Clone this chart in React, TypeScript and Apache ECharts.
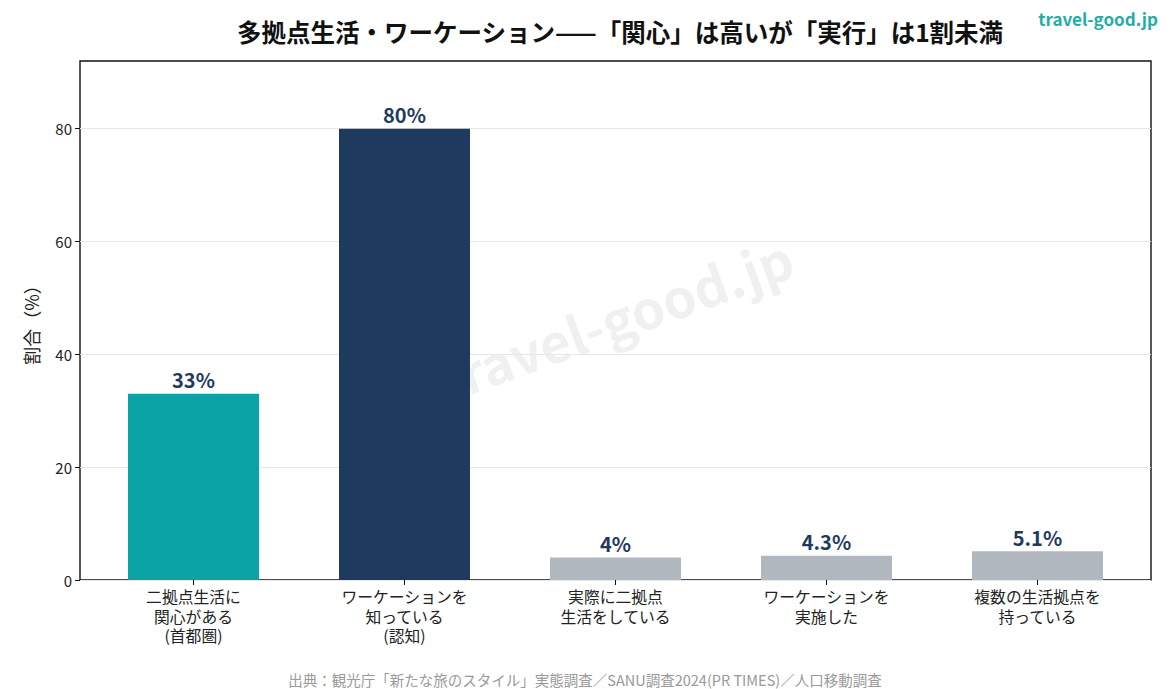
import React, { useEffect, useRef } from "react";
import * as echarts from "echarts";

const categories = [
  "二拠点生活に\n関心がある\n(首都圏)",
  "ワーケーションを\n知っている\n(認知)",
  "実際に二拠点\n生活をしている",
  "ワーケーションを\n実施した",
  "複数の生活拠点を\n持っている",
];
const values = [33, 80, 4, 4.3, 5.1];
const valueLabels = ["33%", "80%", "4%", "4.3%", "5.1%"];
const barColors = ["#0ba4a6", "#1f3a5f", "#b0b7bf", "#b0b7bf", "#b0b7bf"];

const FONT = "'Noto Sans CJK JP', 'Noto Sans', sans-serif";
const Y_MAX = 92;
const TICK_MAX = 80;

// plot frame geometry
const PLOT_TOP = 61;
const PLOT_BOTTOM = 109; // distance from bottom of canvas
const PLOT_H = 689 - PLOT_TOP - PLOT_BOTTOM;
const TICK_TOP = 689 - PLOT_BOTTOM - (PLOT_H * TICK_MAX) / Y_MAX;

export default function App() {
  const ref = useRef<HTMLDivElement>(null);

  useEffect(() => {
    if (!ref.current) return;
    const chart = echarts.init(ref.current, undefined, { renderer: "svg" });
    chart.setOption({
      animation: false,
      backgroundColor: "#ffffff",
      textStyle: { fontFamily: FONT },
      title: {
        text: "多拠点生活・ワーケーション——「関心」は高いが「実行」は1割未満",
        left: 615,
        top: 14,
        textAlign: "center",
        textStyle: { fontFamily: FONT, fontSize: 24.5, fontWeight: "bold", color: "#111" },
      },
      grid: [
        // frame
        {
          left: 80,
          right: 19,
          top: PLOT_TOP,
          bottom: PLOT_BOTTOM,
          show: true,
          borderColor: "#111",
          borderWidth: 1.4,
          backgroundColor: "transparent",
        },
        // bars
        { left: 88, right: 27, top: PLOT_TOP, bottom: PLOT_BOTTOM },
        // y ticks 0..80
        { left: 80, right: 19, top: TICK_TOP, bottom: PLOT_BOTTOM },
      ],
      xAxis: [
        { gridIndex: 0, type: "value", min: 0, max: 1, show: false },
        {
          gridIndex: 1,
          type: "category",
          data: categories,
          axisLine: { show: false },
          axisTick: { show: true, alignWithLabel: true, length: 5, lineStyle: { color: "#111" } },
          axisLabel: {
            fontFamily: FONT,
            fontSize: 15.8,
            color: "#222",
            lineHeight: 19.5,
            margin: 7,
            interval: 0,
          },
        },
        { gridIndex: 2, type: "value", min: 0, max: 1, show: false },
      ],
      yAxis: [
        {
          gridIndex: 0,
          type: "value",
          min: 0,
          max: Y_MAX,
          name: "割合（%）",
          nameLocation: "middle",
          nameGap: 40,
          nameTextStyle: { fontFamily: FONT, fontSize: 18, color: "#222" },
          axisLine: { show: false },
          axisTick: { show: false },
          axisLabel: { show: false },
          splitLine: { show: false },
        },
        { gridIndex: 1, type: "value", min: 0, max: Y_MAX, show: false },
        {
          gridIndex: 2,
          type: "value",
          min: 0,
          max: TICK_MAX,
          interval: 20,
          axisLine: { show: false },
          axisTick: { show: true, length: 5, lineStyle: { color: "#111" } },
          axisLabel: { fontFamily: FONT, fontSize: 15, color: "#222", margin: 8 },
          splitLine: { show: true, lineStyle: { color: "#e8e8e8", width: 1 } },
        },
      ],
      graphic: [
        {
          type: "text",
          z: 0,
          x: 615,
          y: 318,
          rotation: (20 * Math.PI) / 180,
          style: {
            text: "travel-good.jp",
            fontFamily: FONT,
            fontSize: 53,
            fontWeight: "bold",
            fill: "rgba(0,0,0,0.06)",
            align: "center",
            verticalAlign: "middle",
          },
        },
        {
          type: "text",
          x: 1158,
          y: 18,
          style: {
            text: "travel-good.jp",
            fontFamily: FONT,
            fontSize: 17,
            fontWeight: "bold",
            fill: "#1fada6",
            align: "right",
            verticalAlign: "middle",
          },
        },
        {
          type: "text",
          x: 585,
          y: 679,
          style: {
            text: "出典：観光庁「新たな旅のスタイル」実態調査／SANU調査2024(PR TIMES)／人口移動調査",
            fontFamily: FONT,
            fontSize: 14.5,
            fill: "#999",
            align: "center",
            verticalAlign: "middle",
          },
        },
      ],
      series: [
        {
          type: "bar",
          xAxisIndex: 1,
          yAxisIndex: 1,
          barWidth: 131,
          z: 3,
          data: values.map((v, i) => ({ value: v, itemStyle: { color: barColors[i] } })),
          label: {
            show: true,
            position: "top",
            distance: 4,
            fontFamily: FONT,
            fontSize: 20,
            fontWeight: "bold",
            color: "#1f3a5f",
            formatter: (p: any) => valueLabels[p.dataIndex],
          },
        },
      ],
    });
    return () => chart.dispose();
  }, []);

  return (
    <div
      ref={ref}
      style={{ position: "fixed", left: 0, top: 0, width: 1170, height: 689 }}
    />
  );
}
